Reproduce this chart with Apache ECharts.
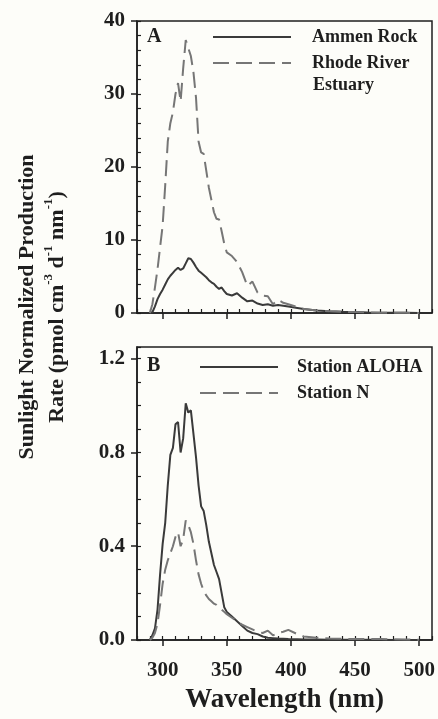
<!DOCTYPE html>
<html>
<head>
<meta charset="utf-8">
<script src="https://cdn.jsdelivr.net/npm/echarts@6/dist/echarts.min.js"></script>
<style>
  html, body { margin: 0; padding: 0; background: #fdfdf9; }
  #chart { width: 438px; height: 719px; }
</style>
</head>
<body>
<div id="chart"></div>
<script>
// Wavelength grid (nm) shared by all four spectra
const wavelengths = [
  290, 292, 294, 296, 298, 300, 302, 304, 306, 308,
  310, 312, 314, 316, 318, 320, 322, 324, 326, 328,
  330, 332, 334, 336, 338, 340, 342, 344, 346, 348,
  350, 354, 358, 362, 366, 370, 374, 378, 382, 386,
  390, 394, 398, 405, 410, 420, 430, 440, 450, 460,
  470, 480, 490, 500
];

// Panel A — coastal sites
const ammenRock = [
  0, 0.1, 0.9, 1.9, 2.6, 3.2, 3.9, 4.6, 5.1, 5.5,
  5.9, 6.2, 5.9, 6.1, 6.8, 7.5, 7.4, 6.9, 6.3, 5.8,
  5.5, 5.2, 4.9, 4.5, 4.2, 4.0, 3.6, 3.3, 3.5, 3.0,
  2.6, 2.4, 2.7, 2.1, 1.6, 1.7, 1.3, 1.1, 1.2, 1.0,
  1.1, 1.0, 0.9, 0.7, 0.55, 0.35, 0.25, 0.18, 0.12, 0.08,
  0.05, 0.03, 0.02, 0.01
];
const rhodeRiver = [
  0, 1.2, 3.5, 6.0, 9.0, 12.0, 17.5, 23.5, 26.0, 27.5,
  30.0, 31.5, 29.0, 33.5, 37.4, 36.3, 35.2, 33.0, 29.5, 23.5,
  22.0, 21.8, 19.5, 17.2, 15.5, 13.8, 12.9, 12.8, 11.2, 9.5,
  8.3, 7.8, 7.0, 5.6, 3.7, 4.3, 2.8, 2.4, 2.3, 1.2,
  1.8, 1.4, 1.2, 0.8, 0.55, 0.35, 0.25, 0.18, 0.12, 0.08,
  0.05, 0.03, 0.02, 0.01
];

// Panel B — open-ocean sites
const stationAloha = [
  0, 0.02, 0.05, 0.13, 0.28, 0.41, 0.50, 0.66, 0.79, 0.82,
  0.92, 0.93, 0.80, 0.86, 1.01, 0.97, 0.98, 0.88, 0.78, 0.66,
  0.57, 0.55, 0.49, 0.42, 0.37, 0.32, 0.29, 0.26, 0.20, 0.14,
  0.12, 0.10, 0.08, 0.06, 0.04, 0.03, 0.025, 0.015, 0.01, 0.008,
  0.006, 0.005, 0.004, 0.003, 0.002, 0.002, 0.001, 0.001, 0.001, 0.001,
  0.001, 0, 0, 0
];
const stationN = [
  0, 0.01, 0.03, 0.07, 0.15, 0.24, 0.30, 0.34, 0.37, 0.40,
  0.44, 0.46, 0.40, 0.43, 0.51, 0.49, 0.46, 0.41, 0.34, 0.28,
  0.24, 0.21, 0.19, 0.175, 0.165, 0.155, 0.15, 0.14, 0.13, 0.12,
  0.11, 0.095, 0.08, 0.065, 0.055, 0.045, 0.035, 0.03, 0.04, 0.02,
  0.03, 0.035, 0.043, 0.025, 0.015, 0.01, 0.006, 0.005, 0.004, 0.005,
  0.004, 0.003, 0.002, 0.001
];

// Axis ticks
const xMajorTicks = [300, 350, 400, 450, 500];
const yTicksA = [0, 10, 20, 30, 40];
const yTicksB = [0, 0.4, 0.8, 1.2];

const SERIF = '"Liberation Serif", "DejaVu Serif", serif';
const INK = '#1e1e1e';
const SOLID = '#3a3a3a';
const DASH = '#767676';

const pairs = vals => wavelengths.map((w, i) => [w, vals[i]]);

function xAxes(gridIndex, withLabels) {
  return [
    { // major ticks + labels
      type: 'value', gridIndex, min: 280, max: 510,
      axisLine: { show: true, onZero: false, lineStyle: { color: INK, width: 1.5 } },
      axisTick: { show: true, customValues: xMajorTicks, length: 6, lineStyle: { color: INK, width: 1.5 } },
      axisLabel: {
        show: withLabels, customValues: xMajorTicks, margin: 20,
        fontFamily: SERIF, fontWeight: 'bold', fontSize: 21, color: INK
      },
      splitLine: { show: false },
      name: withLabels ? 'Wavelength (nm)' : '',
      nameLocation: 'middle', nameGap: 47,
      nameTextStyle: { fontFamily: SERIF, fontWeight: 'bold', fontSize: 27, color: INK }
    },
    { // minor ticks every 10 nm
      type: 'value', gridIndex, min: 280, max: 510, interval: 10,
      axisLine: { show: false },
      axisTick: { show: true, length: 4, lineStyle: { color: INK, width: 1.2 } },
      axisLabel: { show: false },
      splitLine: { show: false }
    }
  ];
}

function yAxes(gridIndex, max, ticks, minorStep, fmt) {
  return [
    {
      type: 'value', gridIndex, min: 0, max,
      axisLine: { show: true, lineStyle: { color: INK, width: 1.5 } },
      axisTick: { show: true, customValues: ticks, length: 6, lineStyle: { color: INK, width: 1.5 } },
      axisLabel: {
        customValues: ticks, margin: 12, formatter: fmt,
        fontFamily: SERIF, fontWeight: 'bold', fontSize: 21, color: INK
      },
      splitLine: { show: false }
    },
    { // inward minor ticks
      type: 'value', gridIndex, min: 0, max, interval: minorStep, position: 'left',
      axisLine: { show: false },
      axisTick: { show: true, inside: true, length: 4, lineStyle: { color: INK, width: 1.2 } },
      axisLabel: { show: false },
      splitLine: { show: false }
    }
  ];
}

const lineSeries = (name, vals, xi, yi, dashed) => ({
  name, type: 'line', xAxisIndex: xi, yAxisIndex: yi,
  data: pairs(vals), symbol: 'none', smooth: false,
  lineStyle: dashed
    ? { color: DASH, width: 2, type: [16, 7] }
    : { color: SOLID, width: 2 },
  itemStyle: { color: dashed ? DASH : SOLID },
  emphasis: { disabled: true }
});

const legendText = { fontFamily: SERIF, fontWeight: 'bold', fontSize: 18, color: INK };

const chart = echarts.init(document.getElementById('chart'), null, { renderer: 'canvas' });
chart.setOption({
  backgroundColor: '#fdfdf9',
  animation: false,
  grid: [
    { left: 137, top: 21, width: 295, height: 292, show: true, borderColor: INK, borderWidth: 1.5, backgroundColor: 'transparent' },
    { left: 137, top: 347, width: 295, height: 293, show: true, borderColor: INK, borderWidth: 1.5, backgroundColor: 'transparent' }
  ],
  xAxis: [...xAxes(0, false), ...xAxes(1, true)],
  yAxis: [
    ...yAxes(0, 40, yTicksA, 2, v => String(v)),
    ...yAxes(1, 1.25, yTicksB, 0.1, v => v.toFixed(1))
  ],
  legend: [
    {
      data: ['Ammen Rock', 'Rhode River Estuary'],
      orient: 'vertical', left: 212, top: 28, padding: 0,
      itemWidth: 78, itemHeight: 14, itemGap: 8,
      itemStyle: { opacity: 0 },
      formatter: n => n === 'Rhode River Estuary' ? 'Rhode River' : n,
      textStyle: Object.assign({ padding: [0, 0, 0, 16] }, legendText),
      selectedMode: false
    },
    {
      data: ['Station ALOHA', 'Station N'],
      orient: 'vertical', left: 199, top: 358, padding: 0,
      itemWidth: 78, itemHeight: 14, itemGap: 8,
      itemStyle: { opacity: 0 },
      textStyle: Object.assign({ padding: [0, 0, 0, 14] }, legendText),
      selectedMode: false
    }
  ],
  series: [
    lineSeries('Ammen Rock', ammenRock, 0, 0, false),
    lineSeries('Rhode River Estuary', rhodeRiver, 0, 0, true),
    lineSeries('Station ALOHA', stationAloha, 2, 2, false),
    lineSeries('Station N', stationN, 2, 2, true)
  ],
  graphic: [
    { type: 'text', left: 147, top: 27, style: { text: 'A', font: 'bold 20px ' + SERIF, fill: INK } },
    { type: 'text', left: 147, top: 356, style: { text: 'B', font: 'bold 20px ' + SERIF, fill: INK } },
    { type: 'text', x: 313, y: 85, style: { text: 'Estuary', font: 'bold 18px ' + SERIF, fill: INK, verticalAlign: 'middle' } },
    {
      type: 'text', x: 42, y: 307, rotation: Math.PI / 2,
      style: {
        text: 'Sunlight Normalized Production\nRate (pmol cm{sup|-3} d{sup|-1} nm{sup|-1})',
        font: 'bold 22px ' + SERIF, fill: INK,
        align: 'center', verticalAlign: 'middle', lineHeight: 30,
        rich: {
          sup: { fontFamily: SERIF, fontWeight: 'bold', fontSize: 13, verticalAlign: 'top', lineHeight: 30, fill: INK }
        }
      }
    }
  ]
});
</script>
</body>
</html>
